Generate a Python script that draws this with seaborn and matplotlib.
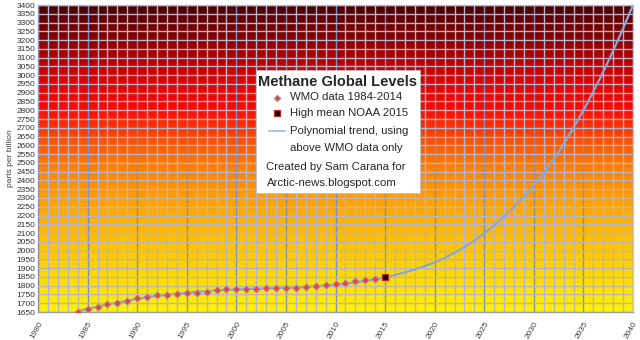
import numpy as np
import pandas as pd
import matplotlib
matplotlib.use("Agg")
import matplotlib.pyplot as plt
import seaborn as sns
from matplotlib.colors import LinearSegmentedColormap
from matplotlib.patches import Rectangle
from matplotlib.lines import Line2D

# WMO annual global mean methane (ppb), 1984-2014
wmo_years = list(range(1984, 2015))
wmo_ppb = [1652, 1668, 1681, 1694, 1704, 1715, 1727, 1738, 1745, 1748,
           1752, 1756, 1761, 1764, 1773, 1781, 1781, 1779, 1781, 1785,
           1785, 1784, 1785, 1790, 1798, 1806, 1812, 1818, 1824, 1830,
           1836]

# NOAA high mean for 2015
noaa_year = [2015]
noaa_ppb = [1849]

# Polynomial trend through the WMO data, extended to 2040
trend_years = list(range(1984, 2041))
trend_ppb = [1655, 1668, 1681, 1693, 1704, 1715, 1725, 1734, 1742, 1749,
             1755, 1760, 1765, 1769, 1773, 1776, 1778, 1780, 1782, 1784,
             1786, 1788, 1790, 1793, 1797, 1801, 1806, 1812, 1819, 1827,
             1836, 1848, 1861, 1876, 1893, 1912, 1933, 1958, 1987, 2020,
             2057, 2099, 2144, 2194, 2249, 2309, 2372, 2442, 2520, 2606,
             2700, 2800, 2906, 3019, 3139, 3266, 3400]

x_ticks = list(range(1980, 2041, 5))
y_ticks = list(range(1650, 3401, 50))

sns.set_style("white")
plt.rcParams["font.family"] = ["Liberation Sans", "DejaVu Sans"]

fig = plt.figure(figsize=(6.4, 3.4), dpi=100)
ax = fig.add_axes([38 / 640, 1 - 312 / 340, 595 / 640, 307 / 340])

# background colour ramp: yellow at the bottom to dark maroon at the top
ramp = LinearSegmentedColormap.from_list(
    "heat",
    [(0.00, "#fff200"), (0.10, "#ffde00"), (0.22, "#ffc300"),
     (0.35, "#ffa500"), (0.47, "#ff8000"), (0.57, "#ff4a00"),
     (0.66, "#ff0a00"), (0.76, "#dd0000"), (0.87, "#990000"),
     (1.00, "#4a0000")])
grad = np.linspace(0, 1, 400).reshape(-1, 1)
ax.imshow(grad, extent=[1980, 2040, 1650, 3400], aspect="auto",
          cmap=ramp, origin="lower", zorder=0, interpolation="bilinear")

trend_df = pd.DataFrame({"year": trend_years, "ppb": trend_ppb})
wmo_df = pd.DataFrame({"year": wmo_years, "ppb": wmo_ppb})
noaa_df = pd.DataFrame({"year": noaa_year, "ppb": noaa_ppb})

sns.lineplot(data=trend_df, x="year", y="ppb", ax=ax, color="#86a9dc",
             linewidth=1.6, zorder=3)
sns.scatterplot(data=wmo_df, x="year", y="ppb", ax=ax, marker="D",
                color="#e8453c", edgecolor="#a0a0b8", linewidth=0.6, s=14,
                zorder=4)
sns.scatterplot(data=noaa_df, x="year", y="ppb", ax=ax, marker="s",
                color="#000000", edgecolor="#cc2020", linewidth=0.8, s=18,
                zorder=5)

ax.set_xlim(1980, 2040)
ax.set_ylim(1650, 3400)
ax.set_xticks(x_ticks)
ax.set_xticks(range(1980, 2041), minor=True)
ax.set_yticks(y_ticks)
ax.set_xticklabels([str(v) for v in x_ticks], rotation=60, ha="right",
                   va="top", rotation_mode="anchor", fontsize=6,
                   color="#404040")
ax.set_yticklabels([str(v) for v in y_ticks], fontsize=6, color="#303030")
ax.tick_params(axis="x", which="both", length=0, pad=6)
ax.tick_params(axis="y", length=0, pad=2)

ax.grid(which="minor", axis="x", color="#b8b4cc", linewidth=1.0, zorder=1)
ax.grid(which="major", axis="x", color="#7f8fc4", linewidth=1.0, zorder=1)
ax.grid(which="major", axis="y", color="#b8b4cc", linewidth=1.0, zorder=1)
ax.set_axisbelow(False)
for line in ax.get_xgridlines() + ax.get_ygridlines():
    line.set_zorder(1)

for side in ["left", "bottom"]:
    ax.spines[side].set_color("#a0a0a0")
    ax.spines[side].set_linewidth(1.0)
for side in ["top", "right"]:
    ax.spines[side].set_color("#c8c8d8")
    ax.spines[side].set_linewidth(1.0)

ax.set_xlabel("")
ax.set_ylabel("parts per billion", fontsize=6, color="#404040", labelpad=4)
ax.yaxis.set_label_coords(-0.04, 0.50)

# legend panel
def fx(px):
    return px / 640

def fy(py):
    return 1 - py / 340

fig.patches.append(Rectangle((fx(256), fy(193)), fx(420) - fx(256),
                             fy(70) - fy(193), transform=fig.transFigure,
                             facecolor="white", edgecolor="#c0c0c0",
                             linewidth=0.6, zorder=10))
fig.text(fx(338), fy(82), "Methane Global Levels", fontsize=10.5,
         fontweight="bold", ha="center", va="center", zorder=11)
fig.lines.append(Line2D([fx(277)], [fy(97.5)], marker="D", markersize=3.5,
                        markerfacecolor="#e8453c", markeredgecolor="#a0a0b8",
                        markeredgewidth=0.6, linestyle="none",
                        transform=fig.transFigure, zorder=11))
fig.lines.append(Line2D([fx(277)], [fy(113.5)], marker="s", markersize=4,
                        markerfacecolor="black", markeredgecolor="#cc2020",
                        markeredgewidth=0.8, linestyle="none",
                        transform=fig.transFigure, zorder=11))
fig.lines.append(Line2D([fx(269), fx(285)], [fy(130.5), fy(130.5)],
                        color="#a8c0e4", linewidth=1.4,
                        transform=fig.transFigure, zorder=11))
fig.text(fx(290.5), fy(97.5), "WMO data 1984-2014", fontsize=8.2,
         ha="left", va="center", zorder=11)
fig.text(fx(290.5), fy(113.5), "High mean NOAA 2015", fontsize=8.2,
         ha="left", va="center", zorder=11)
fig.text(fx(290.5), fy(130.5), "Polynomial trend, using", fontsize=8.2,
         ha="left", va="center", zorder=11)
fig.text(fx(290.5), fy(148), "above WMO data only", fontsize=8.2,
         ha="left", va="center", zorder=11)
fig.text(fx(266.5), fy(166.5), "Created by Sam Carana for", fontsize=8.2,
         ha="left", va="center", zorder=11)
fig.text(fx(266.5), fy(182.5), "Arctic-news.blogspot.com", fontsize=8.2,
         ha="left", va="center", zorder=11)

fig.savefig("out.png", dpi=100)
